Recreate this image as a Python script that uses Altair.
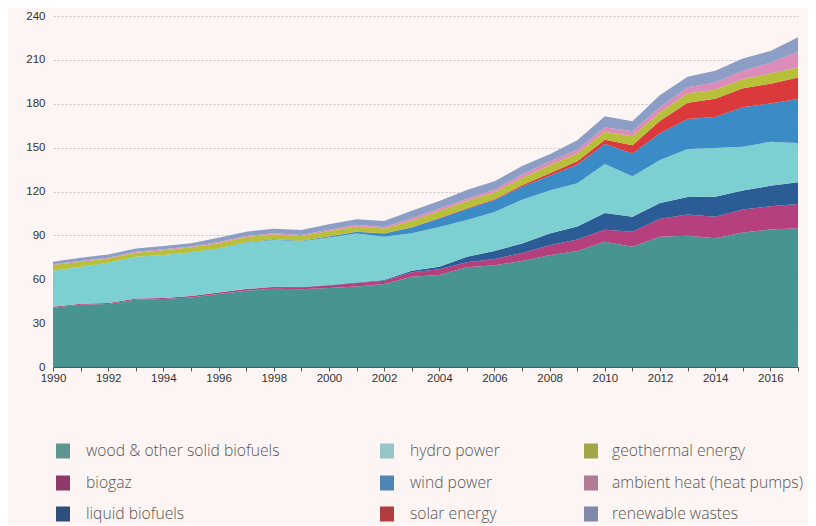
import altair as alt
import pandas as pd

years = list(range(1990, 2018))

series = [
    "wood & other solid biofuels", "biogaz", "liquid biofuels",
    "hydro power", "wind power", "solar energy",
    "geothermal energy", "ambient heat (heat pumps)", "renewable wastes",
]

wood = [40.5, 42.5, 43.0, 46.0, 46.5, 47.5, 50.0, 52.2, 53.5, 53.2, 54.0, 55.0, 56.8, 61.7,
        62.9, 68.2, 69.5, 72.5, 76.4, 79.3, 85.7, 82.3, 89.0, 89.8, 88.0, 92.0, 94.0, 94.8]
biogaz = [0.7, 0.7, 0.7, 0.9, 0.7, 1.0, 1.0, 1.1, 1.2, 1.4, 1.8, 2.4, 2.1, 3.1,
          3.9, 3.4, 4.3, 5.5, 6.8, 7.8, 8.2, 10.2, 12.4, 14.5, 14.8, 15.7, 16.0, 16.7]
liquid = [0.0, 0.0, 0.0, 0.0, 0.0, 0.0, 0.0, 0.0, 0.1, 0.1, 0.2, 0.3, 0.6, 1.0,
          1.8, 3.8, 5.5, 6.5, 8.0, 9.0, 11.4, 10.3, 10.8, 12.0, 13.6, 12.9, 13.9, 14.8]
hydro = [24.6, 25.4, 27.5, 28.4, 29.3, 29.8, 30.0, 31.7, 32.0, 31.2, 32.5, 33.5, 29.5, 25.6,
         27.1, 25.1, 26.7, 29.9, 29.4, 29.6, 33.5, 27.6, 29.3, 32.8, 33.3, 30.0, 30.1, 26.8]
wind = [0.0, 0.0, 0.1, 0.1, 0.1, 0.2, 0.2, 0.3, 0.5, 0.5, 0.8, 1.2, 2.2, 3.9,
        5.9, 7.6, 8.2, 8.8, 10.2, 12.7, 13.7, 15.5, 18.3, 20.5, 21.2, 27.0, 26.2, 30.2]
solar = [0.0, 0.0, 0.0, 0.0, 0.0, 0.0, 0.0, 0.0, 0.0, 0.0, 0.05, 0.1, 0.2, 0.2,
         0.3, 0.4, 0.5, 1.0, 1.7, 2.2, 2.9, 5.7, 8.6, 11.1, 12.5, 13.0, 13.5, 14.7]
geothermal = [3.9, 3.3, 2.9, 2.8, 3.3, 3.3, 3.5, 3.6, 3.4, 3.1, 3.6, 3.6, 3.3, 4.5,
              4.8, 5.0, 4.8, 5.0, 5.5, 5.3, 5.5, 6.2, 5.8, 6.4, 6.2, 6.3, 7.0, 6.8]
ambient = [0.5, 0.5, 0.5, 0.6, 0.6, 0.6, 0.7, 0.7, 0.7, 0.8, 0.9, 1.2, 1.1, 1.7,
           1.6, 1.6, 1.8, 2.5, 2.5, 2.6, 3.1, 3.4, 3.4, 4.1, 5.0, 5.7, 7.3, 10.9]
wastes = [1.8, 2.3, 2.3, 2.3, 2.2, 2.3, 2.9, 2.9, 3.2, 3.4, 3.7, 3.8, 4.1, 5.2,
          5.2, 5.9, 5.7, 5.8, 5.0, 6.5, 7.5, 6.8, 8.4, 7.3, 8.0, 8.4, 8.0, 9.8]

values = [wood, biogaz, liquid, hydro, wind, solar, geothermal, ambient, wastes]

area_colors = ["#479491", "#b6407e", "#2b5c96", "#7dd0d1", "#3a8bc6",
               "#da3a3c", "#b8c03a", "#dc8cb9", "#8c9ec6"]
legend_colors = ["#5e9591", "#8d3a6a", "#2f4e7b", "#95c5c7", "#4f86b6",
                 "#b03e3f", "#a4a549", "#b27b95", "#8089a8"]

y_ticks = list(range(0, 241, 30))

rows = []
for i, (name, vals) in enumerate(zip(series, values)):
    for yr, v in zip(years, vals):
        rows.append({"year": yr, "source": name, "value": v, "ord": i})
df = pd.DataFrame(rows)

W, H = 745, 351

area = alt.Chart(df).mark_area(interpolate="linear").encode(
    x=alt.X("year:Q",
            scale=alt.Scale(domain=[1990, 2017], nice=False, zero=False),
            axis=alt.Axis(values=years, format="d",
                          labelExpr="datum.value % 2 == 0 ? datum.label : ''",
                          title=None, grid=False, domainColor="#555", tickColor="#555",
                          tickSize=4, labelFontSize=11.5, labelColor="#333",
                          labelFont="Liberation Sans", labelPadding=1, zindex=1,
                          labelFlush=False, labelOverlap=False)),
    y=alt.Y("value:Q", stack="zero",
            scale=alt.Scale(domain=[0, 240], nice=False),
            axis=alt.Axis(values=y_ticks, title=None, domain=False, ticks=False,
                          grid=True, gridDash=[2, 2], gridColor="#c4c4c4",
                          labelFontSize=11.5, labelColor="#333",
                          labelFont="Liberation Sans", labelPadding=8)),
    color=alt.Color("source:N", scale=alt.Scale(domain=series, range=area_colors),
                    legend=None),
    order=alt.Order("ord:Q", sort="ascending"),
)

col_sw = [10, 334, 538]
col_tx = [33, 357, 559]
row_y = [435, 467, 498]

legend_layers = []
for i, name in enumerate(series):
    c, r = i // 3, i % 3
    one = pd.DataFrame({"t": [name]})
    sw = alt.Chart(one).mark_rect(color=legend_colors[i]).encode(
        x=alt.value(col_sw[c] - 7), x2=alt.value(col_sw[c] + 7),
        y=alt.value(row_y[r] - 7.5), y2=alt.value(row_y[r] + 7.5))
    tx = alt.Chart(one).mark_text(align="left", baseline="middle", font="Open Sans",
                                  fontSize=15.7, fontWeight=300, color="#555").encode(
        x=alt.value(col_tx[c]), y=alt.value(row_y[r]), text="t:N")
    legend_layers += [sw, tx]

chart = alt.layer(area, *legend_layers).properties(
    width=W, height=H,
    autosize=alt.AutoSizeParams(type="none"),
    padding={"left": 45, "top": 8, "right": 10, "bottom": 158},
    background="#fcf5f3",
).configure_view(strokeWidth=0)

chart.save("out.html", embed_options={"renderer": "svg", "actions": False})
